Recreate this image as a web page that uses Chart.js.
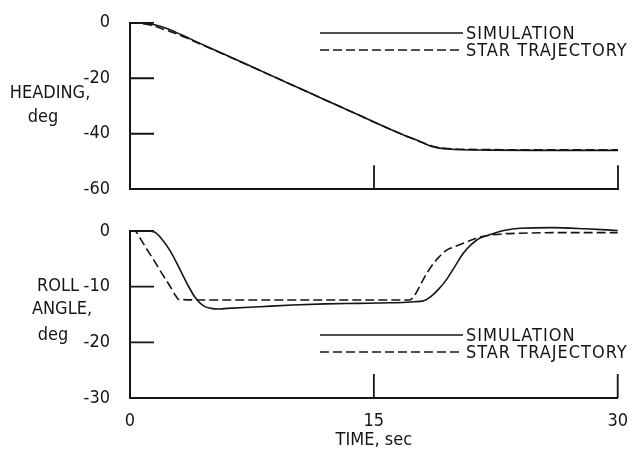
<!DOCTYPE html>
<html>
<head>
<meta charset="utf-8">
<title>Heading and roll angle</title>
<script src="https://cdn.jsdelivr.net/npm/chart.js@4.4.1/dist/chart.umd.min.js"></script>
<style>
  html, body { margin: 0; padding: 0; background: #fff; }
  #wrap { position: relative; width: 633px; height: 452px; overflow: hidden; }
  canvas { position: absolute; left: 0; }
  #heading-chart { top: 0; }
  #roll-chart { top: 205px; }
</style>
</head>
<body>
<div id="wrap">
  <canvas id="heading-chart" width="633" height="212"></canvas>
  <canvas id="roll-chart" width="633" height="247"></canvas>
</div>
<script>
// Heading, deg
const headingTime = [0, 0.5, 1, 1.5, 2, 2.5, 3, 3.5, 4, 5, 6, 8, 10, 12, 14, 16, 17, 17.5, 18, 18.5, 19, 19.5, 20, 22, 25, 30];
const headingSim  = [0, 0, -0.2, -0.7, -1.5, -2.6, -3.9, -5.2, -6.6, -9.3, -11.9, -17.2, -22.5, -27.8, -33.1, -38.4, -40.9, -42.0, -43.3, -44.5, -45.2, -45.5, -45.7, -45.9, -46.0, -46.0];
const headingStar = [0, -0.1, -0.5, -1.2, -2.2, -3.2, -4.3, -5.5, -6.8, -9.4, -12.0, -17.2, -22.5, -27.8, -33.1, -38.4, -40.9, -42.0, -43.2, -44.3, -45.0, -45.3, -45.5, -45.7, -45.8, -45.8];

// Roll angle, deg
const rollSimTime = [0, 0.5, 1, 1.5, 2, 2.5, 3, 3.5, 4, 4.5, 5, 5.5, 6, 8, 10, 12, 14, 16, 17, 17.5, 18, 18.5, 19, 19.5, 20, 20.5, 21, 21.5, 22, 22.5, 23, 24, 26, 28, 30];
const rollSim     = [0, 0, 0, -0.2, -1.6, -3.7, -6.5, -9.4, -11.9, -13.4, -13.9, -14.0, -13.9, -13.6, -13.3, -13.1, -13.0, -12.9, -12.8, -12.7, -12.6, -11.8, -10.4, -8.6, -6.3, -4.0, -2.4, -1.3, -0.8, -0.3, 0.1, 0.5, 0.6, 0.4, 0.1];
const rollStarTime = [0, 0.3, 0.6, 1, 1.5, 2, 2.5, 2.8, 3.0, 5, 10, 15, 17.2, 17.5, 18, 18.5, 19, 19.5, 20, 20.5, 21, 21.5, 22, 23, 24, 26, 30];
const rollStar     = [0, 0, -1.2, -3.1, -5.4, -7.8, -10.1, -11.6, -12.3, -12.4, -12.4, -12.4, -12.4, -11.6, -8.9, -6.5, -4.7, -3.4, -2.8, -2.2, -1.6, -1.1, -0.8, -0.5, -0.4, -0.3, -0.3];

const seriesLabels = ['SIMULATION', 'STAR TRAJECTORY'];
const timeTicks = [0, 15, 30];
const headingTicks = [-60, -40, -20, 0];
const rollTicks = [-30, -20, -10, 0];

const FONT = '"DejaVu Sans Condensed", "Liberation Sans Narrow", sans-serif';
const INK = '#151515';

Chart.defaults.font.family = FONT;
Chart.defaults.font.size = 18;
Chart.defaults.color = INK;

function toPoints(xs, ys) {
  return xs.map((x, i) => ({ x: x, y: ys[i] }));
}

function lineSet(label, points, dashed) {
  return {
    label: label,
    data: points,
    borderColor: INK,
    borderWidth: 1.6,
    borderDash: dashed ? [9, 4] : [],
    pointRadius: 0,
    fill: false,
    clip: 8,
    cubicInterpolationMode: 'monotone'
  };
}

// inward tick marks, axis titles and the in-plot legend
const panelDecor = {
  id: 'panelDecor',
  afterDatasetsDraw(chart, args, opts) {
    const ctx = chart.ctx;
    const { left, bottom } = chart.chartArea;
    const x = chart.scales.x, y = chart.scales.y;
    ctx.save();
    ctx.strokeStyle = INK;
    ctx.lineWidth = 1.8;
    ctx.beginPath();
    x.ticks.forEach(t => {
      const px = x.getPixelForValue(t.value);
      ctx.moveTo(px, bottom);
      ctx.lineTo(px, bottom - opts.tickLength);
    });
    y.ticks.forEach(t => {
      const py = y.getPixelForValue(t.value);
      ctx.moveTo(left, py);
      ctx.lineTo(left + opts.tickLength, py);
    });
    ctx.stroke();

    ctx.fillStyle = INK;
    ctx.font = '18px ' + FONT;
    ctx.textAlign = 'center';
    ctx.textBaseline = 'middle';
    opts.title.forEach(line => ctx.fillText(line.text, line.x, line.y));

    // legend
    ctx.textAlign = 'left';
    ctx.lineWidth = 1.6;
    ctx.letterSpacing = '1px';
    chart.data.datasets.forEach((ds, i) => {
      const ly = opts.legendY + i * opts.legendGap;
      ctx.setLineDash(ds.borderDash);
      ctx.beginPath();
      ctx.moveTo(opts.legendX0, ly);
      ctx.lineTo(opts.legendX1, ly);
      ctx.stroke();
      ctx.fillText(ds.label, opts.legendX1 + 3, ly + 1);
    });
    ctx.restore();
  }
};

function axisBorder() {
  return { display: true, color: INK, width: 2 };
}

function makePanel(canvas, cfg) {
  return new Chart(canvas, {
    type: 'line',
    data: { datasets: cfg.datasets },
    options: {
      responsive: false,
      animation: false,
      layout: { padding: { top: cfg.top, right: 15, left: 0, bottom: 0 } },
      scales: {
        x: {
          type: 'linear',
          min: 0,
          max: 30,
          afterBuildTicks: s => { s.ticks = timeTicks.map(v => ({ value: v })); },
          ticks: { display: cfg.showTime, padding: 5, callback: v => String(v) },
          grid: { display: false },
          border: axisBorder(),
          title: {
            display: cfg.showTime,
            text: 'TIME, sec',
            padding: { top: 0, bottom: 1 }
          },
          afterFit: s => { s.height = cfg.xHeight; }
        },
        y: {
          min: cfg.yTicks[0],
          max: cfg.yTicks[cfg.yTicks.length - 1],
          afterBuildTicks: s => { s.ticks = cfg.yTicks.map(v => ({ value: v })); },
          ticks: { padding: 12, callback: v => String(v) },
          grid: { display: false },
          border: axisBorder(),
          afterFit: s => { s.width = 130; }
        }
      },
      plugins: {
        legend: { display: false },
        tooltip: { enabled: false },
        panelDecor: {
          tickLength: 24,
          title: cfg.title,
          legendX0: 320,
          legendX1: 463,
          legendY: cfg.legendY,
          legendGap: 17
        }
      }
    },
    plugins: [panelDecor]
  });
}

makePanel(document.getElementById('heading-chart'), {
  datasets: [
    lineSet(seriesLabels[0], toPoints(headingTime, headingSim), false),
    lineSet(seriesLabels[1], toPoints(headingTime, headingStar), true)
  ],
  yTicks: headingTicks,
  top: 21,
  xHeight: 11,
  showTime: false,
  legendY: 33,
  title: [
    { text: 'HEADING,', x: 50, y: 93 },
    { text: 'deg', x: 43, y: 117 }
  ]
});

makePanel(document.getElementById('roll-chart'), {
  datasets: [
    lineSet(seriesLabels[0], toPoints(rollSimTime, rollSim), false),
    lineSet(seriesLabels[1], toPoints(rollStarTime, rollStar), true)
  ],
  yTicks: rollTicks,
  top: 26,
  xHeight: 54,
  showTime: true,
  legendY: 130,
  title: [
    { text: 'ROLL', x: 58, y: 81 },
    { text: 'ANGLE,', x: 62, y: 104 },
    { text: 'deg', x: 53, y: 130 }
  ]
});
</script>
</body>
</html>
